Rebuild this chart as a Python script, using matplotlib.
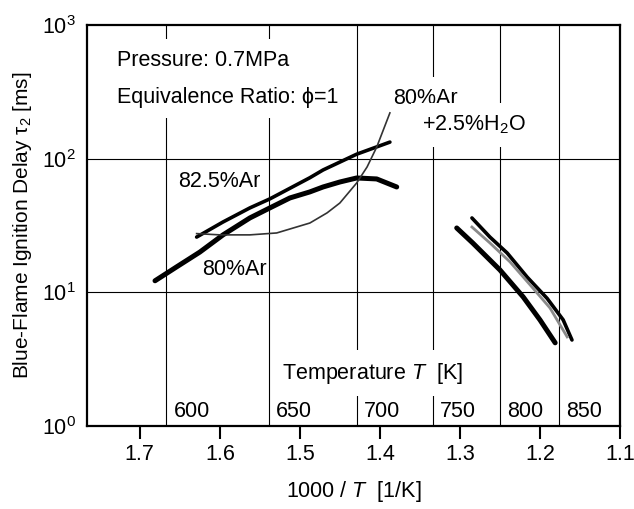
import numpy as np
import matplotlib
matplotlib.use("Agg")
import matplotlib.pyplot as plt

plt.rcParams['font.family'] = ['Liberation Sans', 'DejaVu Sans']
plt.rcParams['mathtext.fontset'] = 'custom'
plt.rcParams['mathtext.rm'] = 'Liberation Sans'
plt.rcParams['mathtext.it'] = 'Liberation Sans:italic'
plt.rcParams['mathtext.bf'] = 'Liberation Sans:bold'

# data: 1000/T [1/K] and blue-flame ignition delay tau2 [ms]
# 80%Ar
x_80_low = [1.681, 1.654, 1.625, 1.596, 1.5625, 1.5375, 1.5125, 1.4875, 1.471, 1.45, 1.429, 1.404, 1.379]
tau_80_low = [12.2, 15.5, 20.0, 26.9, 36.0, 42.8, 50.8, 56.4, 61.4, 66.9, 71.7, 70.5, 61.4]
x_80_high = [1.304, 1.284, 1.25, 1.221, 1.20, 1.181]
tau_80_high = [30.3, 23.4, 14.7, 9.24, 6.22, 4.19]

# 82.5%Ar
x_825_low = [1.629, 1.596, 1.5625, 1.5375, 1.5125, 1.4875, 1.471, 1.429, 1.3875]
tau_825_low = [25.9, 33.6, 42.8, 50.0, 60.0, 72.0, 82.3, 108, 133]
x_825_high = [1.285, 1.2625, 1.241, 1.216, 1.191, 1.171, 1.16]
tau_825_high = [36.0, 25.9, 19.7, 13.0, 9.0, 6.22, 4.4]

# 80%Ar + 2.5%H2O
x_h2o_low = [1.629, 1.60, 1.5625, 1.529, 1.4875, 1.466, 1.45, 1.429, 1.416, 1.404, 1.3875]
tau_h2o_low = [27.5, 26.9, 26.9, 27.8, 33.0, 39.3, 46.6, 65.8, 86.7, 122, 220]
x_h2o_high = [1.285, 1.2625, 1.2375, 1.2125, 1.1875, 1.166]
tau_h2o_high = [30.8, 23.4, 16.9, 11.4, 7.64, 4.64]

temps = [600, 650, 700, 750, 800, 850]
xticks = [1.7, 1.6, 1.5, 1.4, 1.3, 1.2, 1.1]

fig = plt.figure(figsize=(6.34, 5.09), dpi=100)
ax = fig.add_axes([0.1372, 0.1631, 0.8407, 0.7878])

ax.set_yscale('log')
ax.set_ylim(1, 1000)
ax.set_xlim(1.766, 1.1)

# grid: horizontal decades and vertical lines at round temperatures
for yv in [10, 100]:
    ax.axhline(yv, color='black', lw=0.8, zorder=1)
for T in temps:
    ax.axvline(1000 / T, color='black', lw=0.8, zorder=1)
    ax.annotate(str(T), xy=(1000 / T, 0.035), xycoords=('data', 'axes fraction'),
                xytext=(5, 0), textcoords='offset points', fontsize=15.5,
                va='center', ha='left', zorder=3)

# curves
ax.plot(x_80_low, tau_80_low, color='black', lw=3.6, solid_capstyle='round', zorder=4)
ax.plot(x_80_high, tau_80_high, color='black', lw=3.6, solid_capstyle='round', zorder=4)
ax.plot(x_825_low, tau_825_low, color='black', lw=2.6, solid_capstyle='round', zorder=4)
ax.plot(x_825_high, tau_825_high, color='black', lw=2.6, solid_capstyle='round', zorder=4)
ax.plot(x_h2o_low, tau_h2o_low, color='#333333', lw=1.2, zorder=4)
ax.plot(x_h2o_high, tau_h2o_high, color='#8a8a8a', lw=2.0, zorder=5)

box = dict(boxstyle='square,pad=0.5', fc='white', ec='none')
ax.text(1.729, 547, 'Pressure: 0.7MPa', fontsize=15.5, va='center', ha='left', bbox=box, zorder=3)
ax.text(1.729, 289, 'Equivalence Ratio: ϕ=1', fontsize=15.5, va='center', ha='left', bbox=box, zorder=3)
ax.text(1.384, 284, '80%Ar', fontsize=15.5, va='center', ha='left', bbox=box, zorder=3)
ax.text(1.3475, 179, '+2.5%H$_2$O', fontsize=15.5, va='center', ha='left', bbox=box, zorder=3)
ax.text(1.6525, 67, '82.5%Ar', fontsize=15.5, va='center', ha='left', zorder=3)
ax.text(1.6225, 14.7, '80%Ar', fontsize=15.5, va='center', ha='left', zorder=3)
ax.text(1.5225, 0.132, 'Temperature $T$  [K]', fontsize=15.5, va='center', ha='left',
        transform=ax.get_xaxis_transform(), bbox=box, zorder=3)

ax.set_xticks(xticks)
ax.set_xticklabels([f'{v:.1f}' for v in xticks])
ax.set_yticks([1, 10, 100, 1000])
ax.yaxis.set_minor_locator(matplotlib.ticker.NullLocator())
ax.tick_params(axis='x', direction='out', length=9, width=1.5, labelsize=15.5, pad=4)
ax.tick_params(axis='y', length=0, labelsize=15.5, pad=8)

for s in ax.spines.values():
    s.set_linewidth(1.6)

ax.set_xlabel('1000 / $T$  [1/K]', fontsize=15.5, labelpad=10)
ax.set_ylabel('Blue-Flame Ignition Delay τ$_2$ [ms]', fontsize=15, labelpad=6)

fig.savefig('out.png', dpi=100)
